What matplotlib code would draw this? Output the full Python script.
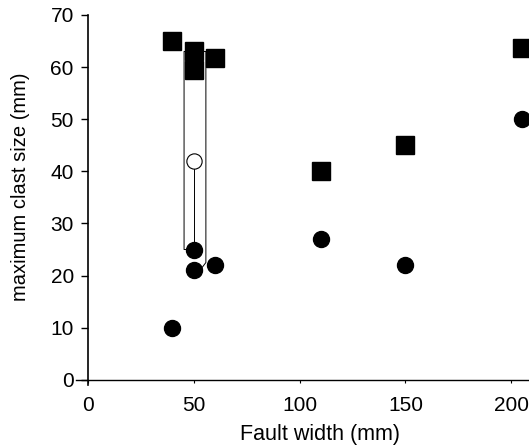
import matplotlib
matplotlib.use('Agg')
import matplotlib.pyplot as plt

plt.rcParams['font.family'] = ['Liberation Sans', 'DejaVu Sans']

# maximum clast size vs fault width
sq_x = [40, 50, 50, 60, 110, 150, 205]
sq_y = [65, 63, 59.5, 61.8, 40, 45, 63.7]
ci_x = [40, 50, 50, 60, 110, 150, 205]
ci_y = [10, 25, 21, 22, 27, 22, 50]
open_x = [50]
open_y = [42]

# range box around the 50 mm group
box_x = [47.5, 45.5, 45.5, 55.8, 55.8, 53]
box_y = [25, 25, 63, 63, 22.5, 21]
stem_x = [50, 50]
stem_y = [42, 25]

fig = plt.figure(figsize=(5.29, 4.45), dpi=100)
ax = fig.add_axes([0.1437, 0.1348, 0.855, 0.8315])

ax.plot(box_x, box_y, color='black', lw=0.7, zorder=1)
ax.plot(stem_x, stem_y, color='black', lw=0.7, zorder=1)
ax.plot(sq_x, sq_y, 's', color='black', ms=12.5, zorder=3)
ax.plot(ci_x, ci_y, 'o', color='black', ms=11.5, zorder=3)
ax.plot(open_x, open_y, 'o', mfc='white', mec='black', mew=0.8, ms=11, zorder=3)

ax.set_xlim(-5.5, 208)
ax.set_ylim(-1, 70)
ax.spines['left'].set_position(('data', 0))
ax.spines['bottom'].set_position(('data', 0))
ax.spines['top'].set_visible(False)
ax.spines['right'].set_visible(False)
ax.spines['left'].set_linewidth(1.2)
ax.spines['bottom'].set_linewidth(1.0)

ax.set_xticks([0, 50, 100, 150, 200])
ax.set_yticks([0, 10, 20, 30, 40, 50, 60, 70])
ax.tick_params(axis='y', direction='out', length=5, width=1, labelsize=15, pad=5)
ax.tick_params(axis='x', direction='out', length=2, width=0.8, labelsize=15, pad=9.5)

ax.set_xlabel('Fault width (mm)', fontsize=15.5)
ax.set_ylabel('maximum clast size (mm)', fontsize=14.5)
ax.xaxis.set_label_coords(0.54, -0.105)
ax.yaxis.set_label_coords(-0.1018, 0.535)

fig.savefig('out.png', dpi=100)
